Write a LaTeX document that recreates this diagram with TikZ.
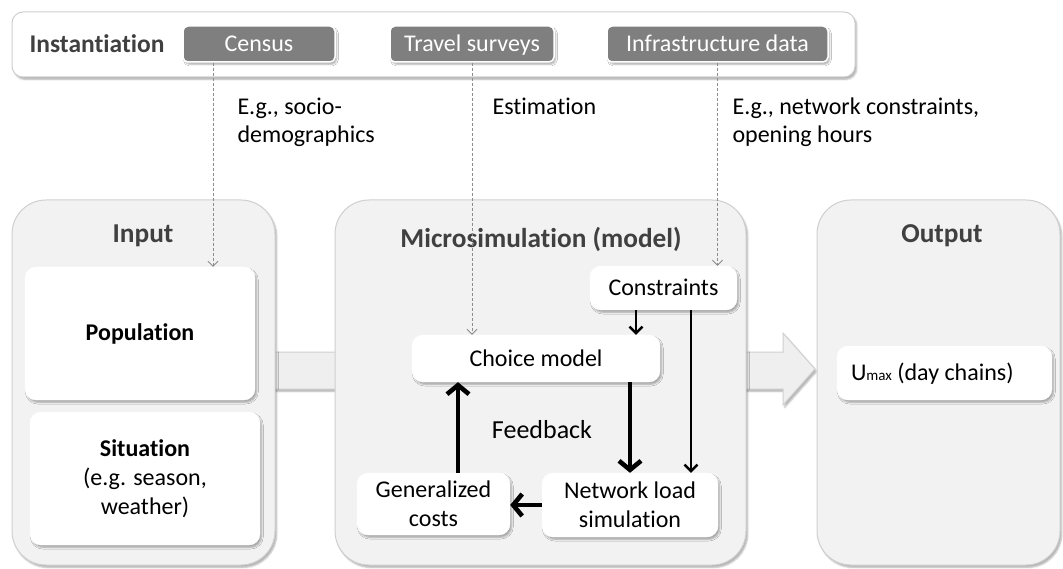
\documentclass[tikz,border=0pt]{standalone}
\usepackage{fontspec}
\setmainfont{Carlito}[Ligatures=NoCommon]
\usetikzlibrary{arrows.meta,shadows.blur,calc}
\definecolor{panel}{HTML}{F2F2F2}
\definecolor{panelline}{HTML}{CFCFCF}
\definecolor{datafill}{HTML}{7F7F7F}
\definecolor{titletext}{HTML}{404040}
\definecolor{hint}{HTML}{8C8C8C}
\definecolor{bigarrow}{HTML}{EFEFEF}

\tikzset{
  softshadow/.style={blur shadow={shadow xshift=1.8pt, shadow yshift=-2.5pt,
      shadow blur radius=1.5pt, shadow opacity=30}},
  container/.style={draw=panelline, fill=panel, line width=1pt,
      rounded corners=34pt, softshadow, inner sep=0pt},
  whitebox/.style={fill=white, draw=white, rounded corners=11pt, softshadow,
      align=center, inner sep=0pt, font=\bodyfont},
  oneline/.style={text height=15.5pt, text depth=0pt},
  databox/.style={fill=datafill, draw=white, line width=1.5pt, rounded corners=5pt,
      text=white, softshadow, inner sep=0pt, font=\bodyfont, oneline},
  paneltitle/.style={anchor=base, text=titletext, font=\titlefont},
  label/.style={anchor=base west, align=left, font=\labelfont},
  hintarrow/.style={draw=hint, line width=0.8pt, dash pattern=on 3pt off 2pt,
      -{Straight Barb[length=5pt, width=10pt]}},
  thinflow/.style={line width=2.5pt, -{Straight Barb[length=6.5pt, width=13pt]}},
  thickflow/.style={line width=4.6pt, -{Straight Barb[length=9pt, width=22pt]}},
}
\newcommand{\bodyfont}{\fontsize{24}{29}\selectfont}
\newcommand{\labelfont}{\fontsize{24}{27.5}\selectfont}
\newcommand{\titlefont}{\fontsize{27.3}{30}\selectfont\bfseries}

\begin{document}
\begin{tikzpicture}[x=1pt, y=-1pt]
\useasboundingbox (0,0) rectangle (1063,569);

% wide arrow running from input to output behind the panels
\path[fill=bigarrow, draw=panelline, line width=1pt, softshadow]
  (250,352) -- (783,352) -- (783,333) -- (815,369) -- (783,405)
  -- (783,389) -- (250,389) -- cycle;

% data sources
\node[container, rounded corners=11pt, fill=white, minimum width=843pt,
      minimum height=65pt] (inst) at (433.5,44.5) {};
\node[anchor=west, text=titletext, font=\fontsize{25.5}{30}\selectfont\bfseries, oneline]
  (insttitle) at (26,44.5) {Instantiation};
\node[databox, minimum width=152pt, minimum height=36pt] (census) at (259,44) {Census};
\node[databox, minimum width=164pt, minimum height=36pt] (travel) at (472,44) {Travel surveys};
\node[databox, minimum width=221pt, minimum height=36pt] (infra) at (717.5,44) {Infrastructure data};

% three main panels
\node[container, minimum width=263pt, minimum height=365pt] (inpanel) at (143.5,382.5) {};
\node[container, minimum width=411pt, minimum height=365pt] (micpanel) at (540.5,382.5) {};
\node[container, minimum width=243pt, minimum height=365pt] (outpanel) at (938.5,382.5) {};

\node[paneltitle] (intitle) at (143,243) {Input};
\node[paneltitle] (mictitle) at (541,248) {Microsimulation (model)};
\node[paneltitle] (outtitle) at (942,243) {Output};

% input panel
\node[whitebox, minimum width=230pt, minimum height=133pt] (pop) at (140,333.5)
  {\textbf{Population}};
\node[whitebox, minimum width=230pt, minimum height=133pt] (sit) at (145,478.5)
  {\textbf{Situation}\\(e.g. season,\\weather)};

% microsimulation panel
\node[whitebox, oneline, minimum width=147pt, minimum height=44pt] (constr) at (663.5,288) {Constraints};
\node[whitebox, oneline, minimum width=248pt, minimum height=47pt] (choice) at (536,358.5) {Choice model};
\node[whitebox, minimum width=153pt, minimum height=62pt] (gen) at (433.5,504)
  {Generalized\\costs};
\node[whitebox, minimum width=176pt, minimum height=64pt] (net) at (630,505)
  {Network load\\simulation};
\node[anchor=base, font=\fontsize{26}{30}\selectfont] (feedback) at (542,438) {Feedback};

% output panel
\node[whitebox, oneline, minimum width=215pt, minimum height=54pt] (umax) at (944.5,373)
  {\makebox[187pt][l]{U{\fontsize{15}{15}\selectfont max} (day chains)}};

% notes under the data sources (anchored at the last line's baseline)
\node[label] (censusnote) at (234,142.5) {E.g., socio-\\demographics};
\node[label] (travelnote) at (489,115) {Estimation};
\node[label] (infranote) at (729,142.5) {E.g., network constraints,\\opening hours};

% x positions of the vertical connectors
\coordinate (censusx) at (213,0);
\coordinate (cxa) at (636,0);
\coordinate (cxb) at (691,0);
\coordinate (cxc) at (630,0);
\coordinate (cxd) at (458,0);

% model flows
\draw[thinflow] (constr.south -| cxa) -- (choice.north -| cxa);
\draw[thinflow] (constr.south -| cxb) -- (net.north -| cxb);
\draw[thickflow] (choice.south -| cxc) -- (net.north -| cxc);
\draw[thickflow] (gen.north -| cxd) -- (choice.south -| cxd);
\draw[thickflow] (net.west) -- (net.west -| gen.east);

% dashed links from the data sources
\draw[hintarrow] (census.south -| censusx) -- (pop.north -| censusx);
\draw[hintarrow] (travel.south) -- (choice.north -| travel.south);
\draw[hintarrow] (infra.south) -- (constr.north -| infra.south);
\end{tikzpicture}
\end{document}
